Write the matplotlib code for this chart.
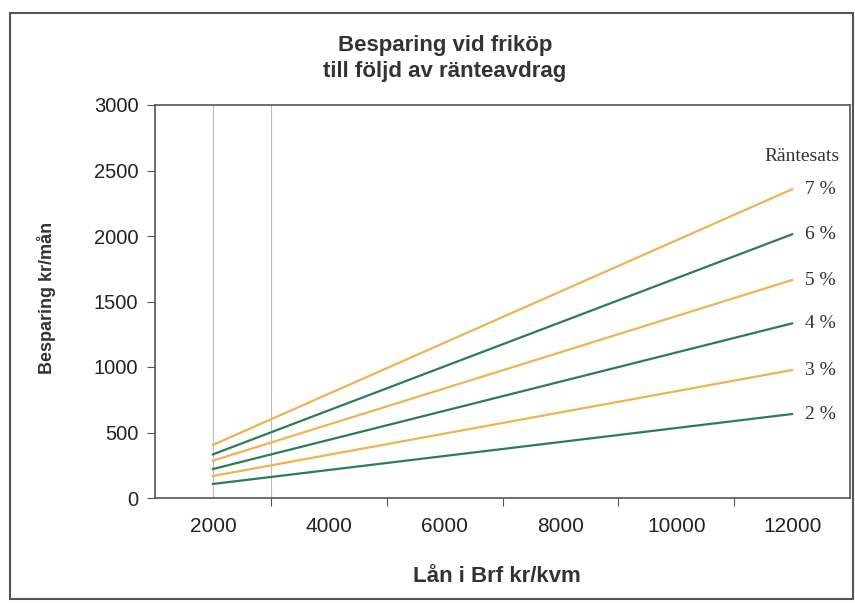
import matplotlib
matplotlib.use('Agg')
import matplotlib.pyplot as plt
from matplotlib.patches import Rectangle

# Data (values at 2000 and 12000 kr/kvm)
LOAN = [2000, 12000]
RATES = ['7 %', '6 %', '5 %', '4 %', '3 %', '2 %']
SAVING = {
    '7 %': [405, 2357],
    '6 %': [333, 2013],
    '5 %': [285, 1664],
    '4 %': [221, 1333],
    '3 %': [168, 977],
    '2 %': [107, 641],
}
X_LABELS = [2000, 4000, 6000, 8000, 10000, 12000]
Y_TICKS = [0, 500, 1000, 1500, 2000, 2500, 3000]

ORANGE = '#F0B252'
GREEN = '#2B7C58'
COLORS = {'7 %': ORANGE, '6 %': GREEN, '5 %': ORANGE,
          '4 %': GREEN, '3 %': ORANGE, '2 %': GREEN}

SANS = ['Liberation Sans', 'DejaVu Sans']
SERIF = ['Liberation Serif', 'DejaVu Serif']

W, H = 855, 603
fig = plt.figure(figsize=(W / 100, H / 100), dpi=100)
fig.patch.set_facecolor('white')

# outer chart border
fig.add_artist(Rectangle((10 / W, 4 / H), 843 / W, 586 / H,
                         transform=fig.transFigure, fill=False,
                         edgecolor='#555555', linewidth=1.5))

ax = fig.add_axes([155 / W, (H - 498) / H, 695 / W, 393 / H])

# faint vertical lines seen in the scan
for xv in (2000, 3000):
    ax.axvline(xv, color='#BBBBBB', linewidth=0.8, zorder=1)

for r in RATES:
    ax.plot(LOAN, SAVING[r], color=COLORS[r], linewidth=1.6, zorder=3)
    ax.text(LOAN[-1] + 230, SAVING[r][-1], r, ha='left', va='center',
            fontsize=14, family=SERIF, color='#333333', clip_on=False)

ax.text(12820, 2610, 'Räntesats', ha='right', va='center',
        fontsize=14, family=SERIF, color='#333333', clip_on=False)

ax.set_xlim(1000, 13000)
ax.set_ylim(0, 3000)

# category-style x axis: ticks between labels
ax.set_xticks([3000, 5000, 7000, 9000, 11000])
ax.set_xticklabels([])
ax.set_xticks(X_LABELS, minor=True)
ax.set_xticklabels([str(v) for v in X_LABELS], minor=True,
                   fontsize=15, family=SANS, color='#222222')
ax.tick_params(axis='x', which='major', direction='out', length=6,
               color='#555555')
ax.tick_params(axis='x', which='minor', length=0, pad=14)

ax.set_yticks(Y_TICKS)
ax.set_yticklabels([str(v) for v in Y_TICKS], fontsize=14.5, family=SANS,
                   color='#222222')
ax.tick_params(axis='y', direction='out', length=6, color='#555555', pad=6)

for s in ax.spines.values():
    s.set_color('#555555')
    s.set_linewidth(1.2)

fig.text(445 / W, 1 - 45 / H, 'Besparing vid friköp', ha='center',
         va='center', fontsize=16, fontweight='bold', family=SANS,
         color='#333333')
fig.text(445 / W, 1 - 72 / H, 'till följd av ränteavdrag', ha='center',
         va='center', fontsize=16, fontweight='bold', family=SANS,
         color='#333333')
fig.text(497 / W, 1 - 576 / H, 'Lån i Brf kr/kvm', ha='center',
         va='center', fontsize=16, fontweight='bold', family=SANS,
         color='#333333')
fig.text(47 / W, 1 - 298 / H, 'Besparing kr/mån', ha='center',
         va='center', rotation=90, fontsize=13, fontweight='bold',
         family=SANS, color='#333333')

fig.savefig('out.png', dpi=100, facecolor='white')
